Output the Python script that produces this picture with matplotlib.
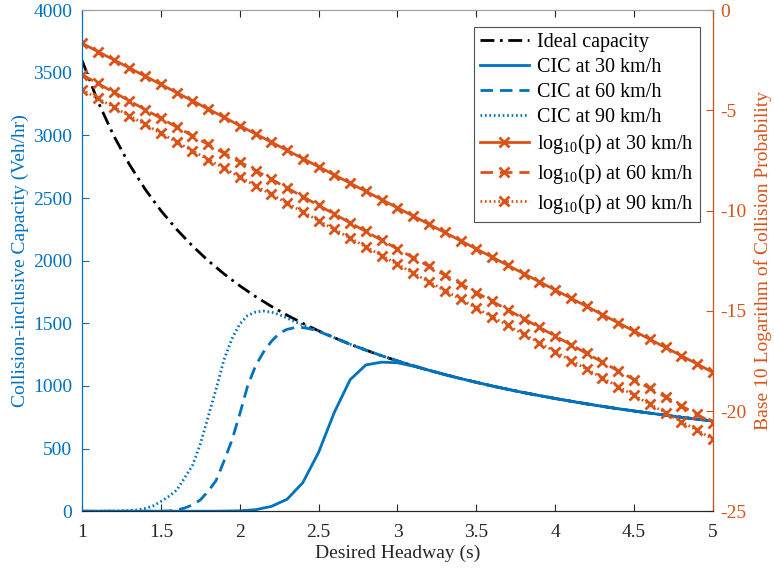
import numpy as np
import matplotlib
matplotlib.use("Agg")
import matplotlib.pyplot as plt

plt.rcParams['font.family'] = ['Liberation Serif', 'DejaVu Serif']
plt.rcParams['mathtext.fontset'] = 'custom'
plt.rcParams['mathtext.rm'] = 'Liberation Serif'
plt.rcParams['mathtext.it'] = 'Liberation Serif:italic'
plt.rcParams['axes.unicode_minus'] = False

# Headway grid (s)
headway = [1.0, 1.1, 1.2, 1.3, 1.4, 1.5, 1.6, 1.7, 1.8, 1.9,
           2.0, 2.1, 2.2, 2.3, 2.4, 2.5, 2.6, 2.7, 2.8, 2.9,
           3.0, 3.1, 3.2, 3.3, 3.4, 3.5, 3.6, 3.7, 3.8, 3.9,
           4.0, 4.1, 4.2, 4.3, 4.4, 4.5, 4.6, 4.7, 4.8, 4.9, 5.0]

ideal_cap = [3600, 3273, 3000, 2769, 2571, 2400, 2250, 2118, 2000, 1895,
             1800, 1714, 1636, 1565, 1500, 1440, 1385, 1333, 1286, 1241,
             1200, 1161, 1125, 1091, 1059, 1029, 1000, 973, 947, 923,
             900, 878, 857, 837, 818, 800, 783, 766, 750, 735, 720]

cic_30 = [0, 0, 0, 0, 0, 0, 0, 0, 0, 1,
          3, 12, 38, 95, 228, 470, 790, 1050, 1168, 1190,
          1185, 1158, 1125, 1091, 1059, 1029, 1000, 973, 947, 923,
          900, 878, 857, 837, 818, 800, 783, 766, 750, 735, 720]

# finer grid for the 60 / 90 km/h capacity curves
headway_fine = [1.0, 1.1, 1.2, 1.3, 1.35, 1.4, 1.45, 1.5, 1.55, 1.6, 1.65,
                1.7, 1.75, 1.8, 1.85, 1.9, 1.95, 2.0, 2.05, 2.1, 2.15,
                2.2, 2.25, 2.3, 2.35, 2.4, 2.45, 2.5, 2.6, 2.7, 2.8, 2.9,
                3.0, 3.2, 3.4, 3.6, 3.8, 4.0, 4.2, 4.4, 4.6, 4.8, 5.0]

cic_60 = [0, 0, 0, 0, 0, 0, 0, 0, 2, 10, 25,
          50, 90, 160, 245, 400, 565, 775, 1000, 1160, 1270,
          1355, 1420, 1452, 1466, 1466, 1455, 1436, 1385, 1333, 1286, 1241,
          1200, 1125, 1059, 1000, 947, 900, 857, 818, 783, 750, 720]

cic_90 = [0, 0, 1, 4, 10, 22, 42, 78, 118, 168, 265,
          365, 535, 755, 975, 1210, 1375, 1495, 1562, 1590, 1598,
          1590, 1570, 1542, 1512, 1488, 1463, 1440, 1385, 1333, 1286, 1241,
          1200, 1125, 1059, 1000, 947, 900, 857, 818, 783, 750, 720]

logp_30 = [-1.65, -2.06, -2.47, -2.88, -3.29, -3.70, -4.11, -4.52, -4.93, -5.34,
           -5.76, -6.17, -6.58, -6.99, -7.40, -7.81, -8.22, -8.63, -9.04, -9.45,
           -9.86, -10.27, -10.68, -11.09, -11.50, -11.91, -12.32, -12.73, -13.14, -13.55,
           -13.96, -14.37, -14.78, -15.19, -15.60, -16.01, -16.42, -16.83, -17.24, -17.65, -18.07]

logp_60 = [-3.22, -3.65, -4.09, -4.52, -4.96, -5.39, -5.83, -6.26, -6.70, -7.13,
           -7.57, -8.00, -8.43, -8.87, -9.30, -9.74, -10.17, -10.61, -11.04, -11.48,
           -11.91, -12.35, -12.78, -13.22, -13.65, -14.09, -14.52, -14.95, -15.39, -15.82,
           -16.26, -16.69, -17.13, -17.56, -18.00, -18.43, -18.87, -19.30, -19.74, -20.17, -20.60]

logp_90 = [-3.96, -4.40, -4.83, -5.27, -5.70, -6.14, -6.58, -7.01, -7.45, -7.88,
           -8.32, -8.76, -9.19, -9.63, -10.06, -10.50, -10.94, -11.37, -11.81, -12.24,
           -12.68, -13.12, -13.55, -13.99, -14.42, -14.86, -15.30, -15.73, -16.17, -16.60,
           -17.04, -17.48, -17.91, -18.35, -18.78, -19.22, -19.66, -20.09, -20.53, -20.96, -21.40]

blue = '#0072BD'
orange = '#D95319'

fig = plt.figure(figsize=(7.74, 5.68), dpi=100)
ax = fig.add_axes([0.106, 0.100, 0.815, 0.882])
ax2 = ax.twinx()

l0, = ax.plot(headway, ideal_cap, color='black', lw=2, linestyle=(0, (5, 2, 1, 2)),
              label='Ideal capacity')
l1, = ax.plot(headway, cic_30, color=blue, lw=2, label='CIC at 30 km/h')
l2, = ax.plot(headway_fine, cic_60, color=blue, lw=2, linestyle=(0, (4.5, 2.5)),
              label='CIC at 60 km/h')
l3, = ax.plot(headway_fine, cic_90, color=blue, lw=2, linestyle=(0, (0.6, 1.0)),
              label='CIC at 90 km/h')

l4, = ax2.plot(headway, logp_30, color=orange, lw=2, marker='x', ms=7, mew=2,
               label='log$_{10}$(p) at 30 km/h')
l5, = ax2.plot(headway, logp_60, color=orange, lw=2, marker='x', ms=7, mew=2,
               linestyle=(0, (4.5, 2.5)), label='log$_{10}$(p) at 60 km/h')
l6, = ax2.plot(headway, logp_90, color=orange, lw=2, marker='x', ms=7, mew=2,
               linestyle=(0, (0.6, 1.0)), label='log$_{10}$(p) at 90 km/h')

ax.set_xlim(1, 5)
ax.set_ylim(0, 4000)
ax2.set_ylim(-25, 0)
ax.set_xticks([1, 1.5, 2, 2.5, 3, 3.5, 4, 4.5, 5])
ax.set_xticklabels(['1', '1.5', '2', '2.5', '3', '3.5', '4', '4.5', '5'])
ax.set_yticks(np.arange(0, 4001, 500))
ax2.set_yticks([-25, -20, -15, -10, -5, 0])

ax.tick_params(axis='x', direction='in', top=True, labelsize=14, colors='#262626',
               length=5, pad=9)
ax.tick_params(axis='y', direction='in', labelsize=14, colors=blue, length=5, pad=7)
ax2.tick_params(axis='y', direction='in', labelsize=14, colors=orange, length=5, pad=5)

ax.spines['left'].set_color(blue)
ax2.spines['left'].set_color(blue)
ax2.spines['right'].set_color(orange)
ax.spines['top'].set_color('#a0a0a0')
ax2.spines['top'].set_color('#a0a0a0')
ax.spines['bottom'].set_color('#262626')
ax2.spines['bottom'].set_color('#262626')

ax.set_xlabel('Desired Headway (s)', fontsize=14, color='#262626', labelpad=3)
ax.set_ylabel('Collision-inclusive Capacity (Veh/hr)', fontsize=14, color=blue, labelpad=3)
ax2.set_ylabel('Base 10 Logarithm of Collision Probability', fontsize=14, color=orange, labelpad=6)

leg = ax2.legend(handles=[l0, l1, l2, l3, l4, l5, l6], loc='upper right',
                 bbox_to_anchor=(0.979, 0.966), borderaxespad=0, fontsize=14.5,
                 frameon=True, fancybox=False, edgecolor='#262626', handlelength=2.4,
                 handletextpad=0.4, labelspacing=0.28, borderpad=0.3, numpoints=1)
leg.get_frame().set_linewidth(0.8)

fig.savefig('out.png', dpi=100)
